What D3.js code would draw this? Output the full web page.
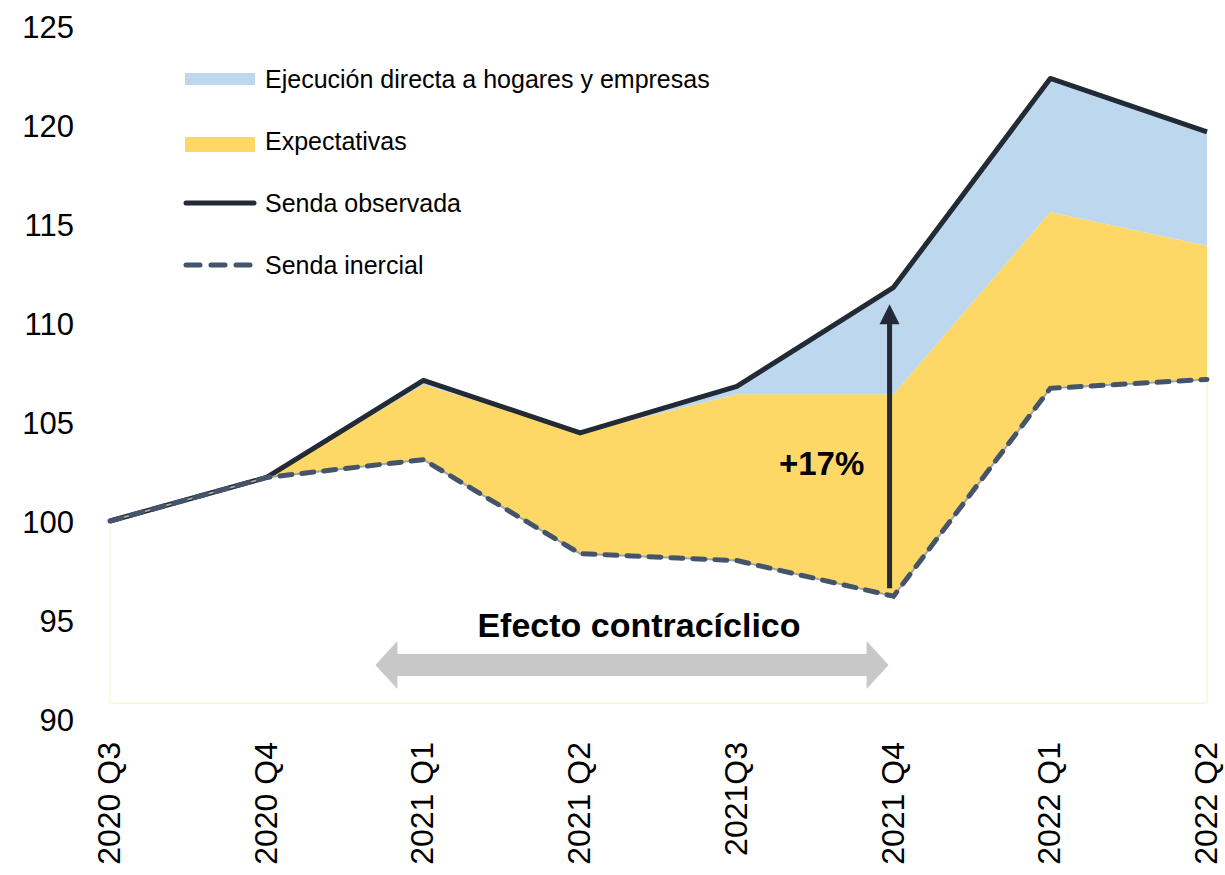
<!DOCTYPE html>
<html>
<head>
<meta charset="utf-8">
<script src="https://cdnjs.cloudflare.com/ajax/libs/d3/7.8.5/d3.min.js"></script>
<style>
  body { margin: 0; background: #fff; }
  svg { display: block; font-family: "Liberation Sans", Arial, sans-serif; }
</style>
</head>
<body>
<svg width="1225" height="875"></svg>
<script>
//  Data
const quarters = ['2020 Q3', '2020 Q4', '2021 Q1', '2021 Q2', '2021Q3', '2021 Q4', '2022 Q1', '2022 Q2'];
const sendaObservada = [100, 102.2, 107.1, 104.45, 106.8, 111.8, 122.35, 119.65];
const sendaExpectativas = [100, 102.2, 106.9, 104.45, 106.4, 106.4, 115.6, 113.9];
const sendaInercial = [100, 102.2, 103.1, 98.35, 98.0, 96.2, 106.7, 107.15];
const areaBase = 90.8;
const yTicks = [90, 95, 100, 105, 110, 115, 120, 125];

const legendItems = [
    { label: 'Ejecución directa a hogares y empresas', kind: 'area', color: '#bdd7ee' },
    { label: 'Expectativas', kind: 'area', color: '#fdd866' },
    { label: 'Senda observada', kind: 'line', color: '#222a35' },
    { label: 'Senda inercial', kind: 'dash', color: '#44546a' }
];

const svg = d3.select('svg');

//  Scales
const x = d3.scalePoint().domain(quarters).range([110, 1207]);
const y = d3.scaleLinear().domain([90, 125]).range([719, 26]);

const rows = quarters.map((q, i) => ({
    q,
    obs: sendaObservada[i],
    exp: sendaExpectativas[i],
    ine: sendaInercial[i]
}));

//======================================================
//  Areas
//======================================================
const area = (lo, hi) => d3.area()
    .x(d => x(d.q))
    .y0(lo)
    .y1(hi);

svg.append('path')
    .datum(rows)
    .attr('d', area(() => y(areaBase), d => y(d.ine)))
    .attr('fill', '#ffffff')
    .attr('stroke', '#f8efcf')
    .attr('stroke-width', 1);

svg.append('path')
    .datum(rows)
    .attr('d', area(d => y(d.ine), d => y(d.exp)))
    .attr('fill', '#fdd866');

svg.append('path')
    .datum(rows)
    .attr('d', area(d => y(d.exp), d => y(d.obs)))
    .attr('fill', '#bdd7ee');

//======================================================
//  Lines
//======================================================
const line = key => d3.line().x(d => x(d.q)).y(d => y(d[key]));

svg.append('path')
    .datum(rows)
    .attr('d', line('obs'))
    .attr('fill', 'none')
    .attr('stroke', '#222a35')
    .attr('stroke-width', 5)
    .attr('stroke-linejoin', 'round');

svg.append('path')
    .datum(rows)
    .attr('d', line('ine'))
    .attr('fill', 'none')
    .attr('stroke', '#a6a6a6')
    .attr('stroke-width', 2);

svg.append('path')
    .datum(rows)
    .attr('d', line('ine'))
    .attr('fill', 'none')
    .attr('stroke', '#44546a')
    .attr('stroke-width', 5)
    .attr('stroke-linecap', 'round')
    .attr('stroke-dasharray', '12 10');

//======================================================
//  Axes
//======================================================
const yAxis = svg.append('g')
    .attr('transform', 'translate(74,0)')
    .call(d3.axisLeft(y).tickValues(yTicks).tickSize(0).tickPadding(0));
yAxis.select('.domain').remove();
yAxis.selectAll('text')
    .attr('font-size', 31)
    .attr('font-family', '"Liberation Sans", Arial, sans-serif')
    .attr('fill', '#000')
    .attr('dy', '0.36em');

const xAxis = svg.append('g')
    .attr('transform', 'translate(-2,742)')
    .call(d3.axisBottom(x).tickSize(0).tickPadding(0));
xAxis.select('.domain').remove();
xAxis.selectAll('text')
    .attr('font-size', 32)
    .attr('font-family', '"Liberation Sans", Arial, sans-serif')
    .attr('fill', '#000')
    .attr('text-anchor', 'end')
    .attr('transform', 'rotate(-90)')
    .attr('x', 0)
    .attr('y', 0)
    .attr('dy', '0.36em');

//======================================================
//  Annotations
//======================================================
//  +17% arrow at 2021 Q4
const q4 = '2021 Q4';
const ax = x(q4) - 4;
const yFrom = y(sendaInercial[5]) - 8;
const yTo = y(sendaObservada[5]) + 17;
svg.append('line')
    .attr('x1', ax).attr('x2', ax)
    .attr('y1', yFrom).attr('y2', yTo + 18)
    .attr('stroke', '#222a35')
    .attr('stroke-width', 5);
svg.append('path')
    .attr('d', `M${ax},${yTo} L${ax - 10},${yTo + 20} L${ax + 10},${yTo + 20} Z`)
    .attr('fill', '#222a35');

svg.append('text')
    .attr('x', ax - 68)
    .attr('y', 475)
    .attr('text-anchor', 'middle')
    .attr('font-size', 33)
    .attr('font-weight', 'bold')
    .attr('fill', '#000')
    .text('+17%');

//  Efecto contracíclico double arrow
const x0 = x('2021 Q1') - 48;
const x1 = x(q4) - 5;
const cy = 665;
const half = 11, headH = 24, headW = 22;
svg.append('path')
    .attr('d', [
        `M${x0},${cy}`,
        `L${x0 + headW},${cy - headH}`,
        `L${x0 + headW},${cy - half}`,
        `L${x1 - headW},${cy - half}`,
        `L${x1 - headW},${cy - headH}`,
        `L${x1},${cy}`,
        `L${x1 - headW},${cy + headH}`,
        `L${x1 - headW},${cy + half}`,
        `L${x0 + headW},${cy + half}`,
        `L${x0 + headW},${cy + headH}`,
        'Z'
    ].join(' '))
    .attr('fill', '#c8c8c8');

svg.append('text')
    .attr('x', (x0 + x1) / 2 + 7)
    .attr('y', 637)
    .attr('text-anchor', 'middle')
    .attr('font-size', 34)
    .attr('font-weight', 'bold')
    .attr('fill', '#000')
    .text('Efecto contracíclico');

//======================================================
//  Legend
//======================================================
const legend = svg.append('g').attr('transform', 'translate(185,79)');
const item = legend.selectAll('g')
    .data(legendItems)
    .join('g')
    .attr('transform', (d, i) => `translate(0,${i * 62})`);

item.filter(d => d.kind === 'area')
    .append('rect')
    .attr('x', 0).attr('y', (d, i) => i === 0 ? -6 : -4)
    .attr('width', 70).attr('height', (d, i) => i === 0 ? 12 : 15)
    .attr('fill', d => d.color);

item.filter(d => d.kind !== 'area')
    .append('line')
    .attr('x1', 1).attr('x2', 69)
    .attr('y1', 0).attr('y2', 0)
    .attr('stroke', d => d.color)
    .attr('stroke-width', 5)
    .attr('stroke-linecap', 'round')
    .attr('stroke-dasharray', d => d.kind === 'dash' ? '14 11' : null);

item.append('text')
    .attr('x', 80)
    .attr('y', 0)
    .attr('dy', '0.36em')
    .attr('font-size', 25)
    .attr('fill', '#000')
    .text(d => d.label);
</script>
</body>
</html>
